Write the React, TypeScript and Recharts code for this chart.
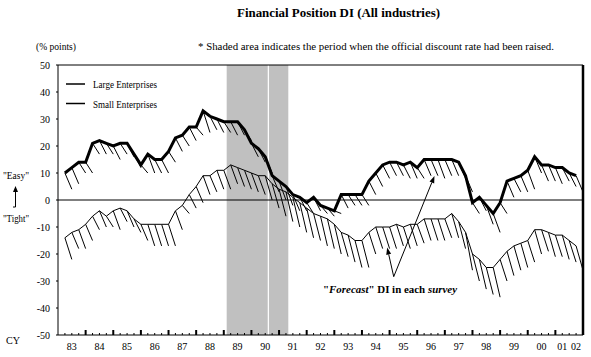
import React from 'react';
import { ComposedChart, Line, XAxis, YAxis, ReferenceArea, ReferenceLine } from 'recharts';

// Quarterly survey index (1 = 1983 Q1 ... 75 = 2001 Q3); x-axis in quarters from 1983 start
const quarters: number[] = Array.from({ length: 75 }, (_, i) => i + 1);

const largeActual: number[] = [
  10, 12, 14, 14, 21, 22, 21, 20, 21, 21,
  17, 13, 17, 15, 15, 18, 23, 24, 27, 27,
  33, 31, 30, 29, 29, 29, 26, 21, 19, 16,
  9, 7, 5, 2, 1, -1, 1, -2, -3, -4,
  2, 2, 2, 2, 7, 10, 13, 14, 14, 13,
  14, 12, 15, 15, 15, 15, 15, 14, 9, -1,
  1, -2, -5, -1, 7, 8, 9, 11, 16, 13,
  13, 12, 12, 10, 9,
];
// "Forecast" DI made in each survey for the next quarter
const largeForecast: number[] = [
  4, 6, 10, 10, 17, 17, 17, 15, 17, 16,
  12, 10, 10, 10, 10, 14, 18, 20, 22, 24,
  25, 26, 25, 25, 24, 24, 22, 16, 14, 10,
  3, 0, -2, -4, -4, -5, -4, -5, -6, -5,
  -3, -2, -2, -2, 2, 5, 8, 9, 9, 8,
  8, 8, 9, 9, 8, 9, 9, 8, 3, -5,
  -4, -9, -12, -5, 1, 3, 3, 4, 10, 7,
  7, 6, 7, 5, 3,
];
const smallActual: number[] = [
  -14, -12, -11, -9, -6, -4, -6, -4, -3, -4,
  -7, -9, -9, -9, -9, -9, -4, -2, 2, 5,
  9, 9, 11, 11, 13, 12, 11, 10, 9, 9,
  6, 4, 3, 1, -1, -3, -5, -6, -7, -9,
  -12, -13, -15, -15, -12, -10, -10, -10, -9, -10,
  -9, -9, -7, -7, -7, -7, -5, -8, -12, -20,
  -22, -25, -25, -22, -19, -17, -16, -15, -11, -11,
  -12, -13, -13, -15, -17,
];
const smallForecast: number[] = [
  -22, -18, -18, -15, -11, -10, -10, -11, -8, -10,
  -12, -15, -17, -17, -17, -17, -11, -5, -3, -1,
  2, 3, 4, 4, 6, 5, 4, 3, 2, 0,
  -3, -6, -8, -10, -12, -14, -15, -17, -18, -20,
  -21, -23, -25, -25, -20, -18, -18, -18, -17, -18,
  -17, -16, -15, -15, -15, -14, -14, -18, -26, -30,
  -33, -35, -36, -30, -28, -26, -25, -23, -20, -19,
  -21, -21, -22, -23, -26,
];

const yearLabels: string[] = ['83', '84', '85', '86', '87', '88', '89', '90', '91', '92', '93', '94', '95', '96', '97', '98', '99', '00', '01', '02'];
const yearLabelPos: number[] = [2, 6, 10, 14, 18, 22, 26, 30, 34, 38, 42, 46, 50, 54, 58, 62, 66, 70, 73, 75];
const yTicks: number[] = [-50, -40, -30, -20, -10, 0, 10, 20, 30, 40, 50];
const raisePeriods: [number, number][] = [[24.42, 30.36], [30.54, 33.34]];
// annotation arrows: [fromQ, fromV, toQ, toV]
const arrows: [number, number, number, number][] = [[48.6, -28.4, 47.65, -17.6], [48.6, -28.4, 54.5, 8.9]];

const rows = quarters.map((q, i) => ({ q, large: largeActual[i], small: smallActual[i] }));
const quarterTicks: number[] = Array.from({ length: 77 }, (_, i) => i);
const labelAt: Record<number, string> = {};
yearLabelPos.forEach((p, i) => { labelAt[p] = yearLabels[i]; });

const FONT = '"Liberation Serif", "Times New Roman", serif';

const XTick = (props: any) => {
  const { x, y, payload } = props;
  const q = payload.value as number;
  const major = q % 4 === 0;
  const lab = labelAt[q];
  return (
    <g>
      {q > 0 && q < 76 && (
        <line x1={x} x2={x} y1={y} y2={y - (major ? 5 : 2)} stroke="#000" strokeWidth={major ? 2 : 1} />
      )}
      {lab && (
        <text x={x} y={y + 15} textAnchor="middle" fontSize={10} fontFamily={FONT} fill="#000">{lab}</text>
      )}
    </g>
  );
};

const YTick = (props: any) => {
  const { x, y, payload } = props;
  return (
    <g>
      <line x1={x - 2} x2={x} y1={y} y2={y} stroke="#000" />
      <text x={x - 8} y={y + 3.5} textAnchor="end" fontSize={10} fontFamily={FONT} fill="#000">{payload.value}</text>
    </g>
  );
};

const ArrowShape = (props: any) => {
  const { x1, y1, x2, y2 } = props;
  const ang = Math.atan2(y2 - y1, x2 - x1);
  const L = 7, W = 2.5;
  const bx = x2 - L * Math.cos(ang), by = y2 - L * Math.sin(ang);
  const px = -Math.sin(ang) * W, py = Math.cos(ang) * W;
  return (
    <g>
      <line x1={x1} y1={y1} x2={bx} y2={by} stroke="#000" strokeWidth={1} />
      <polygon points={`${x2},${y2} ${bx + px},${by + py} ${bx - px},${by - py}`} fill="#000" />
    </g>
  );
};

export default function App() {
  return (
    <div style={{ position: 'absolute', left: 0, top: 0, width: 591, height: 357, background: '#fff' }}>
      <ComposedChart width={591} height={357} data={rows} margin={{ top: 65, right: 8, bottom: 0, left: 0 }}>
        <XAxis dataKey="q" type="number" domain={[0, 76]} ticks={quarterTicks} interval={0} tick={<XTick />}
          tickLine={false} axisLine={false} height={22} tickSize={0} tickMargin={0} allowDataOverflow />
        <YAxis type="number" domain={[-50, 50]} ticks={yTicks} interval={0} tick={<YTick />}
          tickLine={false} axisLine={false} width={58} tickSize={0} tickMargin={0} allowDataOverflow />
        {raisePeriods.map(([a, b], i) => (
          <ReferenceArea key={'r' + i} x1={a} x2={b} y1={-50} y2={50} fill="#c0c0c0" fillOpacity={1} stroke="none" />
        ))}
        <ReferenceLine y={0} stroke="#000" strokeWidth={1} />
        {quarters.map((q, i) => (
          <ReferenceLine key={'hl' + i} segment={[{ x: q, y: largeActual[i] }, { x: q + 1, y: largeForecast[i] }]} stroke="#000" strokeWidth={1} />
        ))}
        {quarters.map((q, i) => (
          <ReferenceLine key={'hs' + i} segment={[{ x: q, y: smallActual[i] }, { x: q + 1, y: smallForecast[i] }]} stroke="#000" strokeWidth={1} />
        ))}
        {arrows.map((a, i) => (
          <ReferenceLine key={'ar' + i} segment={[{ x: a[0], y: a[1] }, { x: a[2], y: a[3] }]} shape={ArrowShape} />
        ))}
        <Line type="linear" dataKey="small" stroke="#000" strokeWidth={1} dot={false} isAnimationActive={false} />
        <Line type="linear" dataKey="large" stroke="#000" strokeWidth={3} dot={false} isAnimationActive={false} />
        <ReferenceArea x1={0} x2={76} y1={-50} y2={50} fill="none" stroke="#000" strokeWidth={1} />
        <ReferenceLine x={76} stroke="#000" strokeWidth={2.5} />
      </ComposedChart>
      <svg width={591} height={357} style={{ position: 'absolute', left: 0, top: 0, pointerEvents: 'none' }} fontFamily={FONT}>
        <text x={237} y={17} fontSize={12} fontWeight="bold" textLength={203} lengthAdjust="spacingAndGlyphs">Financial Position DI (All industries)</text>
        <text x={36} y={50} fontSize={10} textLength={40} lengthAdjust="spacingAndGlyphs">(% points)</text>
        <text x={198} y={50} fontSize={10} textLength={356} lengthAdjust="spacingAndGlyphs">* Shaded area indicates the period when the official discount rate had been raised.</text>
        <line x1={66} x2={85} y1={84} y2={84} stroke="#000" strokeWidth={1.5} />
        <text x={93} y={88} fontSize={10} textLength={64} lengthAdjust="spacingAndGlyphs">Large Enterprises</text>
        <line x1={66} x2={85} y1={103.5} y2={103.5} stroke="#000" strokeWidth={1.5} />
        <text x={93} y={107.5} fontSize={10} textLength={64} lengthAdjust="spacingAndGlyphs">Small Enterprises</text>
        <text x={3} y={179} fontSize={10} textLength={26} lengthAdjust="spacingAndGlyphs">"Easy"</text>
        <line x1={15.5} x2={15.5} y1={189} y2={207} stroke="#000" strokeWidth={1} />
        <polygon points="15.5,186 13,192 18,192" fill="#000" />
        <line x1={13} x2={15.5} y1={207} y2={207} stroke="#000" strokeWidth={1} />
        <text x={3} y={222} fontSize={10} textLength={26} lengthAdjust="spacingAndGlyphs">"Tight"</text>
        <text x={6} y={344} fontSize={10} textLength={14} lengthAdjust="spacingAndGlyphs">CY</text>
        <text x={323} y={293} fontSize={10.5} fontWeight="bold" textLength={134} lengthAdjust="spacingAndGlyphs">
          "<tspan fontStyle="italic">Forecast</tspan>" DI in each <tspan fontStyle="italic">survey</tspan>
        </text>
      </svg>
    </div>
  );
}
